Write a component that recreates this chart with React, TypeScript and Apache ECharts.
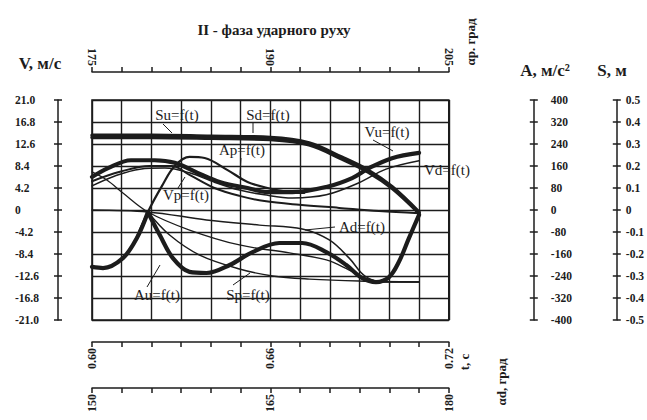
import React, { useEffect, useRef } from 'react';
import * as echarts from 'echarts';

// ---- data ----
const suT = [0.600, 0.620, 0.640, 0.660, 0.673, 0.684, 0.693, 0.701, 0.710];
const suS = [0.34, 0.34, 0.335, 0.33, 0.305, 0.24, 0.18, 0.105, -0.01];
const sdT = [0.600, 0.620, 0.640, 0.660, 0.673, 0.684, 0.693, 0.701, 0.710];
const sdS = [0.33, 0.33, 0.326, 0.32, 0.296, 0.232, 0.172, 0.098, -0.015];
const spT = [0.6188, 0.6261, 0.6362, 0.6496, 0.6607, 0.6731, 0.6898, 0.710];
const spS = [-0.009, -0.114, -0.205, -0.268, -0.30, -0.314, -0.323, -0.327];
const sxT = [0.600, 0.605, 0.6104, 0.6188, 0.6328, 0.6496, 0.6664, 0.6788, 0.6865, 0.6918, 0.6982, 0.710];
const sxS = [0.173, 0.136, 0.077, -0.009, -0.091, -0.159, -0.195, -0.227, -0.273, -0.309, -0.327, -0.327];

const auT = [0.600, 0.6037, 0.6104, 0.6151, 0.6188, 0.6228, 0.6272, 0.6328, 0.6385, 0.6463, 0.654, 0.663, 0.6707, 0.6788, 0.6855, 0.6908, 0.6955, 0.6999, 0.7032, 0.7066, 0.710];
const auA = [-207, -211, -175, -102, -8, -91, -175, -225, -229, -200, -153, -120, -120, -153, -200, -247, -262, -244, -189, -102, -18];
const apT = [0.6144, 0.6188, 0.6235, 0.6278, 0.6328, 0.6379, 0.6456, 0.6523, 0.659, 0.6664, 0.6714];
const apA = [-116, -7, 87, 160, 193, 189, 145, 102, 80, 65, 62];
const adT = [0.600, 0.6188, 0.6385, 0.6563, 0.6707, 0.6798, 0.6865, 0.6918, 0.6982, 0.710];
const adA = [0, -7, -36, -55, -69, -109, -175, -240, -262, -262];

const vuT = [0.600, 0.6054, 0.6131, 0.6211, 0.6278, 0.6355, 0.6432, 0.6523, 0.659, 0.6674, 0.6788, 0.6875, 0.6932, 0.7009, 0.710];
const vuV = [6.3, 8.0, 9.5, 9.5, 9.0, 7.1, 5.3, 4.2, 3.4, 3.4, 4.4, 6.1, 8.0, 9.9, 10.9];
const vdT = [0.600, 0.6077, 0.6161, 0.6245, 0.6328, 0.6412, 0.6496, 0.658, 0.6674, 0.6788, 0.6898, 0.6989, 0.710];
const vdV = [4.6, 6.5, 7.8, 8.0, 7.1, 5.3, 3.8, 2.9, 2.3, 2.9, 5.2, 7.8, 9.4];
const vpT = [0.600, 0.6094, 0.6194, 0.6268, 0.6328, 0.6412, 0.6496, 0.658, 0.6697, 0.6831, 0.6965, 0.710];
const vpV = [5.5, 7.3, 8.4, 8.4, 6.7, 4.2, 2.7, 1.7, 1.0, 0.4, -0.2, -0.6];

// axis ranges / ticks [min, max, interval]
const tRange = [0.6, 0.72, 0.01];
const apRange = [175, 205, 2.5];
const adRange = [150, 180, 2.5];
const vRange = [-21, 21, 4.2];
const aRange = [-400, 400, 80];
const sRange = [-0.5, 0.5, 0.1];

const title = 'II - фаза ударного руху';

const INK = '#1c1c1c';
const FONT = '"Liberation Serif", "Times New Roman", serif';

export default function App() {
  const ref = useRef<HTMLDivElement>(null);
  useEffect(() => {
    const chart = echarts.init(ref.current!, null, { renderer: 'svg' });
    const lbl = { fontFamily: FONT, fontSize: 11.5, fontWeight: 'bold' as const, color: INK };
    const fmt1 = (v: number) => (Math.abs(v) < 1e-9 ? '0' : v.toFixed(1));
    const pair = (xs: number[], ys: number[]) => xs.map((x, i) => [x, ys[i]]);
    const line = (name: string, data: number[][], yAxisIndex: number, width: number, z = 3) => ({
      type: 'line', name, xAxisIndex: 0, yAxisIndex, data, smooth: 0.35, symbol: 'none', silent: true, z,
      lineStyle: { color: INK, width, cap: 'round', join: 'round' },
    });
    const k = auA.indexOf(Math.max(...auA));
    const auData = pair(auT, auA);

    const xBase = (min: number, max: number, iv: number, pos: string, offset: number, show: (v: number) => string, extra: any = {}) => ({
      type: 'value', min, max, interval: iv, position: pos, offset, gridIndex: 0,
      axisLine: { show: true, onZero: false, lineStyle: { color: INK, width: 1.5 } },
      axisTick: { show: true, length: 5, lineStyle: { color: INK, width: 1.5 } },
      axisLabel: { ...lbl, fontSize: 12, rotate: 90, margin: 6, formatter: show, showMinLabel: true, showMaxLabel: true },
      splitLine: { show: false },
      ...extra,
    });
    const yBase = (min: number, max: number, iv: number, pos: string, offset: number, margin: number, main: boolean, extra: any = {}) => ({
      type: 'value', min, max, interval: iv, position: pos, offset,
      axisLine: { show: main, onZero: false, lineStyle: { color: INK, width: 1.5 } },
      axisTick: { show: true, length: 4, inside: !main, lineStyle: { color: INK, width: 1.5 } },
      axisLabel: main ? { ...lbl, margin, align: 'left', formatter: fmt1 } : { show: false },
      splitLine: { show: false },
      ...extra,
    });

    const text = (t: string, x: number, y: number, size: number, weight = 'normal', rot = 0) => ({
      type: 'text', x, y, rotation: rot, silent: true,
      style: { text: t, fill: INK, font: `${weight} ${size}px ${FONT}`, align: 'center', verticalAlign: 'middle' },
    });
    const leader = (x1: number, y1: number, x2: number, y2: number) => ({
      type: 'line', silent: true, shape: { x1, y1, x2, y2 }, style: { stroke: INK, lineWidth: 1 },
    });

    chart.setOption({
      animation: false,
      backgroundColor: '#ffffff',
      grid: { left: 92, right: 197, top: 100, bottom: 100, show: true, borderColor: INK, borderWidth: 1.6, backgroundColor: 'transparent' },
      xAxis: [
        xBase(tRange[0], tRange[1], tRange[2], 'bottom', 22,
          (v: number) => (Math.round(v * 100) % 6 === 0 ? v.toFixed(2) : ''),
          { splitLine: { show: true, lineStyle: { color: INK, width: 1.4 } } }),
        xBase(apRange[0], apRange[1], apRange[2], 'top', 28,
          (v: number) => ((v - apRange[0]) % 15 === 0 ? String(v) : '')),
        xBase(adRange[0], adRange[1], adRange[2], 'bottom', 68,
          (v: number) => ((v - adRange[0]) % 15 === 0 ? String(v) : '')),
      ],
      yAxis: [
        yBase(vRange[0], vRange[1], vRange[2], 'left', 34, 43, true,
          { splitLine: { show: true, lineStyle: { color: INK, width: 1.4 } } }),
        yBase(vRange[0], vRange[1], vRange[2], 'left', 34, 0, false),
        yBase(aRange[0], aRange[1], aRange[2], 'right', 85, 17, true,
          { axisLabel: { ...lbl, margin: 17, align: 'left', formatter: (v: number) => String(Math.round(v)) } }),
        yBase(aRange[0], aRange[1], aRange[2], 'right', 85, 0, false),
        yBase(sRange[0], sRange[1], sRange[2], 'right', 168, 9, true),
        yBase(sRange[0], sRange[1], sRange[2], 'right', 168, 0, false),
      ],
      series: [
        line('Su', pair(suT, suS), 4, 3.5, 5),
        line('Sd', pair(sdT, sdS), 4, 3.5, 5),
        line('Sp', pair(spT, spS), 4, 1.4),
        line('S', pair(sxT, sxS), 4, 1.3),
        line('Au', auData.slice(0, k + 1), 2, 4.2, 5),
        line('Au', auData.slice(k), 2, 4.2, 5),
        line('Ap', pair(apT, apA), 2, 2.2),
        line('Ad', pair(adT, adA), 2, 1.5),
        line('Vu', pair(vuT, vuV), 0, 4.2, 5),
        line('Vd', pair(vdT, vdV), 0, 1.5),
        line('Vp', pair(vpT, vpV), 0, 2),
      ],
      graphic: [
        text(title, 274, 30, 15, 'bold'),
        text('V, м/с', 40, 63, 17, 'bold'),
        text('A, м/с²', 545, 70, 17, 'bold'),
        text('S, м', 612, 70, 17, 'bold'),
        text('αр. град', 470, 42, 13, 'bold', Math.PI / 2),
        text('t, c', 464, 362, 13, 'bold', Math.PI / 2),
        text('αd, град', 501, 382, 13, 'bold', Math.PI / 2),
        text('Su=f(t)', 177, 115, 15),
        text('Sd=f(t)', 268, 115, 15),
        text('Ap=f(t)', 242, 150, 15),
        text('Vp=f(t)', 186, 195, 15),
        text('Vu=f(t)', 387, 132, 15),
        text('Vd=f(t)', 447, 170, 15),
        text('Ad=f(t)', 362, 227, 15),
        text('Au=f(t)', 157, 295, 15),
        text('Sp=f(t)', 248, 295, 15),
        leader(163, 124, 172, 133),
        leader(253, 122, 253, 133),
        leader(241, 158, 240, 175),
        leader(178, 188, 185, 177),
        leader(373, 140, 393, 151),
        leader(335, 227, 305, 230),
        leader(147, 287, 160, 265),
        leader(233, 285, 250, 273),
      ],
    });
    return () => chart.dispose();
  }, []);
  return <div ref={ref} style={{ position: 'fixed', left: 0, top: 0, width: 647, height: 420, background: '#fff' }} />;
}
